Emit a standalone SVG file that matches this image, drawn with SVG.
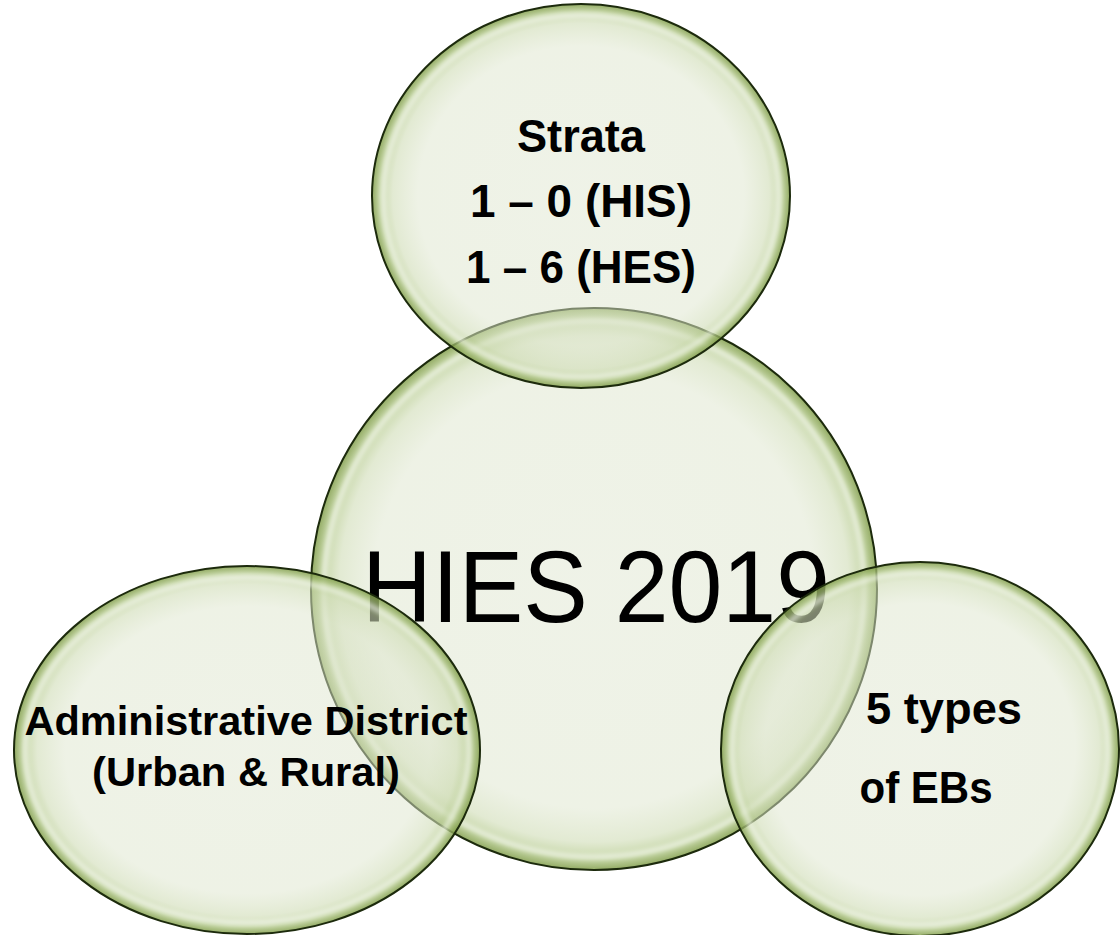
<svg xmlns="http://www.w3.org/2000/svg" width="1120" height="935" viewBox="0 0 1120 935">
<defs>
<radialGradient id="g">
<stop offset="0" stop-color="#dfe6d0" stop-opacity="0.5"/>
<stop offset="0.78" stop-color="#dde5cc" stop-opacity="0.5"/>
<stop offset="0.9" stop-color="#cfdcb5" stop-opacity="0.6"/>
<stop offset="0.96" stop-color="#b0c785" stop-opacity="0.72"/>
<stop offset="1" stop-color="#7f9c48" stop-opacity="0.85"/>
</radialGradient>
<filter id="blur" x="-10%" y="-10%" width="120%" height="120%"><feGaussianBlur stdDeviation="2"/></filter>
</defs>
<style>
.b{fill:url(#g);stroke:#1c2a0c;stroke-width:2}
.hl{fill:none;stroke:#ffffff;stroke-width:5;stroke-opacity:0.55;filter:url(#blur)}
.t{font-family:"Liberation Sans",Arial,sans-serif;font-weight:bold;fill:#000;text-anchor:middle}
.big{font-family:"Liberation Sans",Arial,sans-serif;font-size:102px;fill:#000;text-anchor:middle}
</style>
<rect width="1120" height="935" fill="#ffffff"/>
<g id="center">
<ellipse class="b" cx="594" cy="589" rx="283" ry="281"/>
<ellipse class="hl" cx="594" cy="589" rx="270" ry="268"/>
<text class="big" x="596" y="622" textLength="468" lengthAdjust="spacingAndGlyphs">HIES 2019</text>
</g>
<g id="strata">
<ellipse class="b" cx="581" cy="196" rx="209" ry="192"/>
<ellipse class="hl" cx="581" cy="196" rx="198" ry="181"/>
<text class="t" font-size="47" x="581" y="152" textLength="128" lengthAdjust="spacingAndGlyphs">Strata</text>
<text class="t" font-size="47" x="581" y="217" textLength="222" lengthAdjust="spacingAndGlyphs">1 – 0 (HIS)</text>
<text class="t" font-size="47" x="581" y="283" textLength="230" lengthAdjust="spacingAndGlyphs">1 – 6 (HES)</text>
</g>
<g id="district">
<ellipse class="b" cx="247" cy="750" rx="233" ry="184"/>
<ellipse class="hl" cx="247" cy="750" rx="222" ry="173"/>
<text class="t" font-size="41" x="246" y="735" textLength="443" lengthAdjust="spacingAndGlyphs">Administrative District</text>
<text class="t" font-size="41" x="246" y="786" textLength="308" lengthAdjust="spacingAndGlyphs">(Urban &amp; Rural)</text>
</g>
<g id="ebs">
<ellipse class="b" cx="920" cy="749" rx="199" ry="187"/>
<ellipse class="hl" cx="920" cy="749" rx="188" ry="176"/>
<text class="t" font-size="45" x="944" y="724" textLength="156" lengthAdjust="spacingAndGlyphs">5 types</text>
<text class="t" font-size="45" x="926" y="803" textLength="133" lengthAdjust="spacingAndGlyphs">of EBs</text>
</g>
<g id="connectors"/>
</svg>
